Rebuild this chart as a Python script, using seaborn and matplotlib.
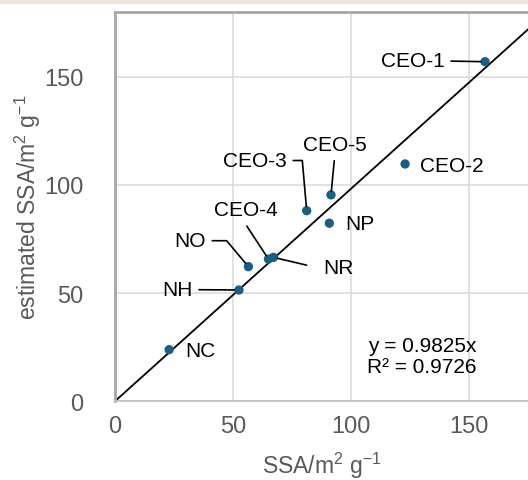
import matplotlib
matplotlib.use("Agg")
import matplotlib.pyplot as plt
import seaborn as sns
import pandas as pd

# measured vs estimated specific surface area
samples = ["CEO-1", "CEO-2", "CEO-3", "CEO-5", "NP", "CEO-4", "NR", "NO", "NH", "NC"]
ssa = [156.8, 122.9, 81.2, 91.5, 90.8, 65.0, 67.1, 56.5, 52.5, 22.9]
ssa_est = [157.0, 109.7, 88.1, 95.4, 82.3, 65.7, 66.5, 62.2, 51.4, 23.8]

slope = 0.9825
r2 = 0.9726
line_x = [0, 200]

df = pd.DataFrame({"sample": samples, "ssa": ssa, "est": ssa_est})

sns.set_style("white")
plt.rcParams["font.family"] = ["Liberation Sans", "DejaVu Sans"]
plt.rcParams["mathtext.fontset"] = "custom"
plt.rcParams["mathtext.rm"] = "Liberation Sans"
plt.rcParams["mathtext.it"] = "Liberation Sans"

fig = plt.figure(figsize=(5.28, 4.81), dpi=100)
fig.patch.set_facecolor("white")
ax = fig.add_axes([0.218, 0.164, 0.782, 0.809])

ax.grid(True, color="#dcdcdc", linewidth=1.2)
ax.set_axisbelow(True)

# trend line through origin
sns.lineplot(x=line_x, y=[slope * v for v in line_x], color="black", linewidth=1.3, ax=ax)
sns.scatterplot(data=df, x="ssa", y="est", color="#1b5e80", s=45, edgecolor="none", ax=ax, zorder=3)

ax.set_xlim(0, 175)
ax.set_ylim(0, 180)
ax.set_xticks([0, 50, 100, 150])
ax.set_yticks([0, 50, 100, 150])
ax.tick_params(axis="both", labelsize=17, colors="#595959", length=6, width=1, color="#bfbfbf")
ax.tick_params(axis="x", pad=4)
ax.tick_params(axis="y", pad=17)
ax.set_xlabel("SSA/m$^\\mathrm{2}$ g$^\\mathrm{-1}$", fontsize=16.5, color="#595959")
ax.set_ylabel("estimated SSA/m$^\\mathrm{2}$ g$^\\mathrm{-1}$", fontsize=16.5, color="#595959")
ax.xaxis.set_label_coords(0.5, -0.126)
ax.yaxis.set_label_coords(-0.175, 0.5)

for side in ["left", "top"]:
    ax.spines[side].set_color("#a6a6a6")
    ax.spines[side].set_linewidth(2)
ax.spines["bottom"].set_color("#bfbfbf")
ax.spines["bottom"].set_linewidth(1.2)
ax.spines["right"].set_visible(False)

lbl = dict(fontsize=15, color="black")
arrow = dict(arrowstyle="-", color="black", lw=1.2, shrinkA=2, shrinkB=3)

def pt(name):
    i = samples.index(name)
    return (ssa[i], ssa_est[i])

ax.annotate("CEO-1", xy=pt("CEO-1"), xytext=(139.8, 157.6), ha="right", va="center",
            arrowprops=arrow, **lbl)
ax.annotate("CEO-2", xy=pt("CEO-2"), xytext=(129.2, 109.2), ha="left", va="center", **lbl)
ax.annotate("CEO-3", xy=pt("CEO-3"), xytext=(72.9, 111.3), ha="right", va="center",
            arrowprops=dict(arrow, connectionstyle="angle,angleA=0,angleB=95,rad=0"), **lbl)
ax.annotate("CEO-5", xy=pt("CEO-5"), xytext=(93.2, 118.8), ha="center", va="center", **lbl)
ax.annotate("", xy=pt("CEO-5"), xytext=(93.0, 112.5), arrowprops=arrow)
ax.annotate("NP", xy=pt("NP"), xytext=(97.5, 82.0), ha="left", va="center", **lbl)
ax.annotate("CEO-4", xy=pt("CEO-4"), xytext=(55.5, 88.5), ha="center", va="center", **lbl)
ax.annotate("", xy=pt("CEO-4"), xytext=(55.2, 82.0), arrowprops=arrow)
ax.annotate("NO", xy=pt("NO"), xytext=(38.6, 74.2), ha="right", va="center",
            arrowprops=dict(arrow, connectionstyle="angle,angleA=0,angleB=130,rad=0"), **lbl)
ax.annotate("NR", xy=pt("NR"), xytext=(88.1, 62.0), ha="left", va="center", **lbl)
ax.annotate("", xy=pt("NR"), xytext=(82.3, 62.6), arrowprops=arrow)
ax.annotate("NH", xy=pt("NH"), xytext=(33.0, 51.6), ha="right", va="center",
            arrowprops=arrow, **lbl)
ax.annotate("NC", xy=pt("NC"), xytext=(29.7, 23.6), ha="left", va="center", **lbl)

ax.text(130, 20.8, f"y = {slope}x\nR² = {r2}", fontsize=15, color="black",
        ha="center", va="center", linespacing=1.1)

# thin beige strip along the top edge
fig.patches.append(plt.Rectangle((0, 0.992), 1, 0.008, transform=fig.transFigure,
                                 color="#ebe5d7", zorder=0))

fig.savefig("out.png", dpi=100)
